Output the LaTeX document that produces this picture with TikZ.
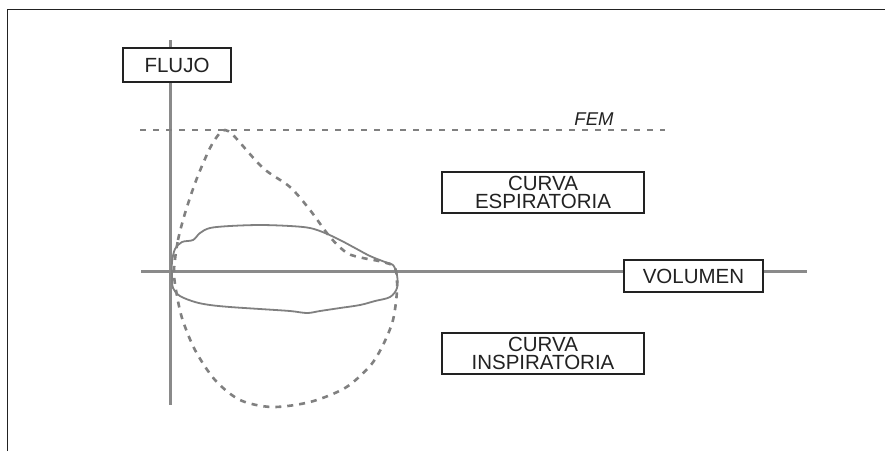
\documentclass[tikz,border=0pt]{standalone}
\usepackage{fontspec}
\setmainfont{Liberation Sans}
\definecolor{axisgray}{HTML}{8A8A8A}
\definecolor{curvegray}{HTML}{808080}
\definecolor{inkc}{HTML}{222222}
\begin{document}
\begin{tikzpicture}[x=1pt,y=-1pt,
  lbl/.style={draw=inkc, fill=white, line width=1.4pt, text=inkc, inner sep=0pt,
    align=center, font=\fontsize{20.5}{18.5}\selectfont},
  axisline/.style={draw=axisgray, line width=3pt},
  dashc/.style={draw=curvegray, line width=2.6pt, dash pattern=on 6pt off 6pt},
  solidc/.style={draw=curvegray, line width=1.8pt}]
\useasboundingbox (0,0) rectangle (885,451);
% frame
\draw[draw=inkc, line width=1.8pt] (7.5,451) -- (7.5,9.5) -- (885,9.5);
% axes
\coordinate (vtop) at (170,40);
\coordinate (vbot) at (170,405);
\coordinate (hleft) at (141,271);
\coordinate (hright) at (807,271);
\draw[axisline] (vtop) -- (vbot);
\draw[axisline] (hleft) -- (hright);
% FEM line
\coordinate (femL) at (140,130);
\coordinate (femR) at (665,130);
\draw[draw=curvegray, line width=2.6pt, dash pattern=on 6pt off 7pt] (femL) -- (femR);
\node[text=inkc, font=\fontsize{18.5}{18.5}\selectfont\itshape, anchor=base] (fem) at (594,125) {FEM};
% solid loop
\draw[solidc] plot[smooth cycle, tension=0.55] coordinates {
 (172,262) (175,249) (182,242) (193,240) (200,233) (210,228) (230,226) (260,225)
 (290,226) (310,228) (325,233) (340,240) (355,248) (370,256) (385,262) (393,265)
 (397,275) (397,288) (390,297) (375,301) (360,305) (340,308) (320,311) (307,313)
 (290,311) (260,309) (230,307) (210,305) (195,302) (180,296) (173,288) (172,275)};
% dashed loop
\draw[dashc] plot[smooth cycle, tension=0.5] coordinates {
 (174,270) (178,240) (186,210) (197,178) (210,148) (219,134) (225,130) (234,136)
 (263,168) (290,187) (310,210) (330,237) (347,253) (363,258) (383,262) (395,268)
 (397,290) (393,320) (383,345) (370,366) (345,388) (310,402) (272,407) (240,400)
 (215,380) (195,350) (182,318) (176,290)};
% labels
\node[lbl, minimum width=108pt, minimum height=34pt] (flujo) at (177,65) {FLUJO};
\node[lbl, minimum width=139pt, minimum height=32pt] (vol) at (693.5,276) {VOLUMEN};
\node[lbl, minimum width=202pt, minimum height=41pt] (esp) at (543,192.5) {CURVA\\ESPIRATORIA};
\node[lbl, minimum width=202pt, minimum height=41pt] (insp) at (543,353.5) {CURVA\\INSPIRATORIA};
\end{tikzpicture}
\end{document}
